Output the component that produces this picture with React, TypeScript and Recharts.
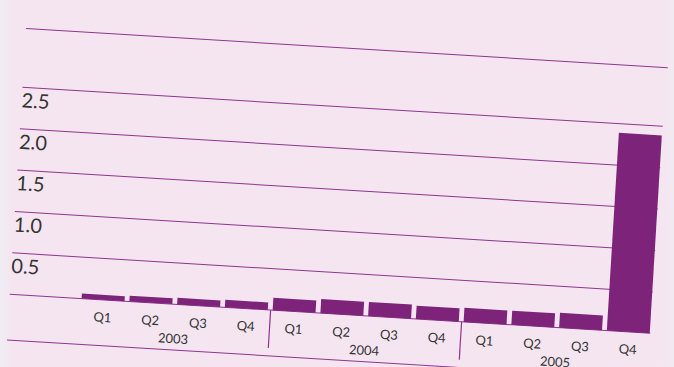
import React from "react";
import { BarChart, Bar, XAxis, YAxis, CartesianGrid } from "recharts";

const QUARTERS = ["Q1", "Q2", "Q3", "Q4", "Q1", "Q2", "Q3", "Q4", "Q1", "Q2", "Q3", "Q4"];
const YEARS = ["2003", "2003", "2003", "2003", "2004", "2004", "2004", "2004", "2005", "2005", "2005", "2005"];
const VALUES = [0.06, 0.07, 0.08, 0.09, 0.15, 0.17, 0.17, 0.16, 0.17, 0.17, 0.18, 2.39];
const Y_TICKS = [0, 0.5, 1, 1.5, 2, 2.5];

const data = QUARTERS.map((q, i) => ({ q: `${q}-${i}`, label: q, year: YEARS[i], value: VALUES[i] }));

// layout of the (unrotated) chart
const ML = 20;
const TOP = 40;
const PLOT_TOP = TOP + 59.4;
const PLOT_BOTTOM = TOP + 266.7;
const PLOT_W = 644;
const PAD_LEFT = 70;
const W = ML + PLOT_W + 20;
const H = 380;
const BAND = (PLOT_W - PAD_LEFT) / 12;
const GROUP_W = BAND * 4;
const BAR_W = 43;

const PURPLE = "#7d247a";
const GRID = "#8f3590";
const TEXT = "#333333";
const FONT = "Lato, 'DejaVu Sans', sans-serif";

const YTick = (props: any) => {
  const { y, payload } = props;
  if (payload.value === 0) return null;
  return (
    <text x={ML} y={y + 20} textAnchor="start" fontSize={20} fill={TEXT} fontFamily={FONT}>
      {Number(payload.value).toFixed(1)}
    </text>
  );
};

const QTick = (props: any) => {
  const { x, payload } = props;
  return (
    <text x={x} y={PLOT_BOTTOM + 22} textAnchor="middle" fontSize={13} fill={TEXT} fontFamily={FONT}>
      {String(payload.value).split("-")[0]}
    </text>
  );
};

const YearTick = (props: any) => {
  const { x, payload, index } = props;
  return (
    <g>
      <text x={x} y={PLOT_BOTTOM + 39} textAnchor="middle" fontSize={13} fill={TEXT} fontFamily={FONT}>
        {payload.value}
      </text>
      {index < 2 && (
        <line
          x1={x + GROUP_W / 2}
          x2={x + GROUP_W / 2}
          y1={PLOT_BOTTOM}
          y2={PLOT_BOTTOM + 38}
          stroke={GRID}
          strokeWidth={1.2}
        />
      )}
    </g>
  );
};

export default function App() {
  return (
    <div
      style={{
        position: "fixed",
        left: 0,
        top: 0,
        width: 674,
        height: 367,
        overflow: "hidden",
        background:
          "linear-gradient(to right, #efedf2 0px, #f5e5f0 12px, #f5e5f0 660px, #f2eaf1 674px)",
      }}
    >
      <div
        style={{
          position: "absolute",
          left: 25.5 - ML,
          top: 28 - TOP,
          width: W,
          height: H,
          transformOrigin: `${ML}px ${TOP}px`,
          transform: "rotate(3.49deg)",
        }}
      >
        <div style={{ position: "absolute", left: ML, top: TOP - 0.5, width: 643, height: 1.3, background: GRID }} />
        <div style={{ position: "absolute", left: ML, top: TOP + 311.5, width: W - ML, height: 1.3, background: GRID }} />
        <BarChart
          width={W}
          height={H}
          data={data}
          margin={{ top: PLOT_TOP, left: 0, right: W - ML - PLOT_W, bottom: H - PLOT_BOTTOM - 60 }}
        >
          <CartesianGrid
            vertical={false}
            stroke={GRID}
            strokeWidth={1}
            x={ML}
            width={PLOT_W - (BAND - BAR_W) / 2}
          />
          <YAxis
            width={ML}
            domain={[0, 2.5]}
            ticks={Y_TICKS}
            axisLine={false}
            tickLine={false}
            tick={<YTick />}
            interval={0}
          />
          <XAxis
            xAxisId="q"
            dataKey="q"
            height={30}
            padding={{ left: PAD_LEFT, right: 0 }}
            axisLine={false}
            tickLine={false}
            tick={<QTick />}
            interval={0}
          />
          <XAxis
            xAxisId="year"
            dataKey="year"
            allowDuplicatedCategory={false}
            height={30}
            padding={{ left: PAD_LEFT, right: 0 }}
            axisLine={false}
            tickLine={false}
            tick={<YearTick />}
            interval={0}
          />
          <Bar xAxisId="q" dataKey="value" fill={PURPLE} barSize={BAR_W} isAnimationActive={false} />
        </BarChart>
      </div>
    </div>
  );
}
